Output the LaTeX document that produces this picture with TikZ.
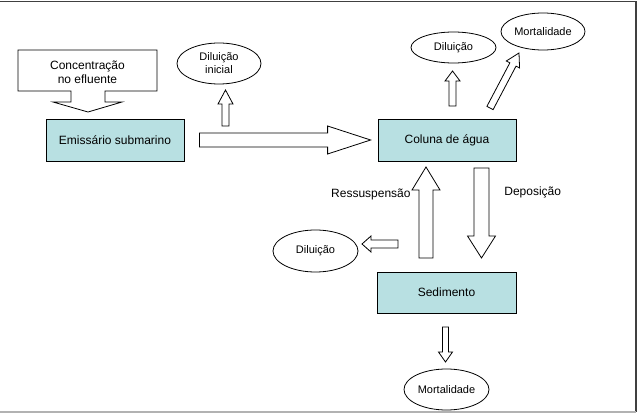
\documentclass[tikz,border=0pt]{standalone}
\usepackage{fontspec}
\setmainfont{Liberation Sans}
\usetikzlibrary{calc,shapes.geometric}

\definecolor{azulcaixa}{RGB}{184,224,226}

\newcommand{\blocoseta}[5]{% tail, tip, shaft half, head half, head length
  \coordinate (bs-h) at ($(#2)!#5!(#1)$);
  \draw [seta] ($(#1)!#3!90:(#2)$) -- ($(bs-h)!#3!90:(#2)$) -- ($(bs-h)!#4!90:(#2)$) -- (#2)
    -- ($(bs-h)!#4!-90:(#2)$) -- ($(bs-h)!#3!-90:(#2)$) -- ($(#1)!#3!-90:(#2)$) -- cycle;}

\begin{document}
\begin{tikzpicture}[x = 1pt, y = -1pt, line width = 0.8pt,
                      caixa/.style = {rectangle, draw, fill = azulcaixa, minimum width = 138pt, minimum height = 42pt, font = \fontsize{12}{14}\selectfont},
                      bolha/.style = {ellipse, draw, inner sep = 0pt, align = center, font = \fontsize{11}{13}\selectfont},
                      rotulo/.style = {inner sep = 0pt, font = \fontsize{12}{14}\selectfont},
                      seta/.style = {draw, fill = white, line join = miter}]
    \useasboundingbox (0, 0) rectangle (638, 414);
    \draw [black!75, line width = 1.5pt] (0, 1.5) -- (636, 1.5) -- (636, 412);
    \draw [black!30, line width = 1.2pt] (0, 412) -- (636, 412);

    \node [caixa] (emissario) at (115, 140){Emissário submarino};
    \node [caixa] (coluna) at (447, 140){Coluna de água};
    \node [caixa, minimum width = 139pt, minimum height = 41pt] (sedimento) at (446.5, 292.5){Sedimento};

    \node [bolha, minimum width = 84pt, minimum height = 41pt] (dilinicial) at (219, 63.5){Diluição\\inicial};
    \node [bolha, minimum width = 85pt, minimum height = 31pt] (dilcoluna) at (453.5, 47.5){Diluição};
    \node [bolha, minimum width = 84pt, minimum height = 37pt] (mortcoluna) at (543, 31.5){Mortalidade};
    \node [bolha, minimum width = 85pt, minimum height = 42pt] (dilsed) at (315.5, 251){Diluição};
    \node [bolha, minimum width = 85pt, minimum height = 41pt] (mortsed) at (446.5, 389.5){Mortalidade};

    \draw (18, 50) -- (157, 50) -- (157, 91) -- (105, 91) -- (105, 102) -- (122, 102) -- (88, 112)
      -- (53, 102) -- (71, 102) -- (71, 91) -- (18, 91) -- cycle;
    \node [rotulo, align = center] (concentracao) at (87.5, 72){Concentração\\no efluente};

    \node [rotulo, anchor = east] (ressusp) at (411, 194){Ressuspensão};
    \node [rotulo, anchor = west] (depos) at (504, 192){Deposição};

    \coordinate (emi-a) at (225.5, 126);
    \coordinate (dilini-a) at (225.5, 90);
    \coordinate (emi-b) at ($(emissario.east) + (15, 0)$);
    \coordinate (col-a) at ($(coluna.west) + (-7, 0)$);
    \coordinate (col-b) at (452.5, 106);
    \coordinate (dilcol-a) at (452.5, 71);
    \coordinate (col-c) at (490, 108);
    \coordinate (mortcol-a) at (519, 53);
    \coordinate (sed-a) at (426, 258);
    \coordinate (col-d) at (426, 167);
    \coordinate (col-e) at (481.5, 168);
    \coordinate (sed-b) at (481.5, 258);
    \coordinate (sed-c) at (398, 244);
    \coordinate (dilsed-a) at (362, 244);
    \coordinate (sed-d) at (445.5, 327);
    \coordinate (mortsed-a) at (445.5, 362);

    \blocoseta{emi-a}{dilini-a}{3.5pt}{7.5pt}{14pt}
    \blocoseta{emi-b}{col-a}{7pt}{14pt}{43pt}
    \blocoseta{col-b}{dilcol-a}{3.5pt}{7.5pt}{10pt}
    \blocoseta{col-c}{mortcol-a}{3.5pt}{7.5pt}{13pt}
    \blocoseta{sed-a}{col-d}{7pt}{14pt}{23pt}
    \blocoseta{col-e}{sed-b}{7.5pt}{14pt}{22pt}
    \blocoseta{sed-c}{dilsed-a}{4pt}{8pt}{9pt}
    \blocoseta{sed-d}{mortsed-a}{3pt}{7pt}{10pt}
\end{tikzpicture}
\end{document}
